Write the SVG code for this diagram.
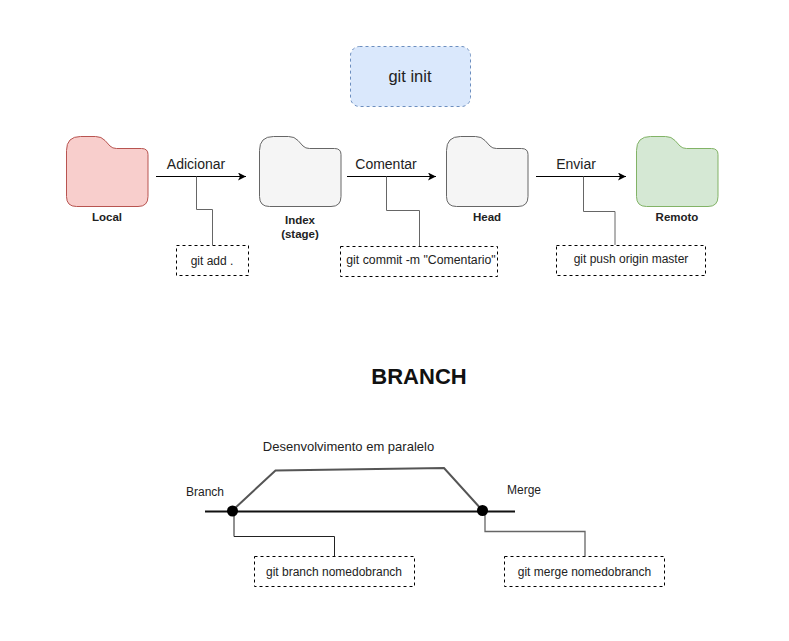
<svg xmlns="http://www.w3.org/2000/svg" width="789" height="641" viewBox="0 0 789 641">
<defs>
<path id="folder" d="M14 0H29Q35 0 38.500 4L43.500 9.500Q46 12 50 12H75Q81.500 12 81.500 18V60Q81.500 70 71.500 70H10Q0 70 0 60V14Q0 0 14 0Z"/>
<marker id="arrow" markerWidth="10" markerHeight="8" refX="8" refY="4" orient="auto" markerUnits="userSpaceOnUse"><path d="M0 0L8 4L0 8L2 4Z" fill="#000"/></marker>
</defs>
<style>
text{font-family:"Liberation Sans",Arial,sans-serif;fill:#222;text-anchor:middle}
.lbl{font-size:14px}
.b{font-size:11.500px;font-weight:bold}
.s{font-size:12px}
.cmd{fill:#fff;stroke:#000;stroke-width:1;stroke-dasharray:3 3}
.arrow{fill:none;stroke:#000;stroke-width:1.200;marker-end:url(#arrow)}
.elbow{fill:none;stroke:#666;stroke-width:1}
.elbowk{fill:none;stroke:#222;stroke-width:1}
</style>
<rect width="789" height="641" fill="#fff"/>
<g id="connectors">
<path class="arrow" d="M156 176.500H246"/>
<path class="arrow" d="M347 176.500H436"/>
<path class="arrow" d="M536 176.500H626"/>
<path class="elbow" d="M196.500 176.500V209.500H212.500V245"/>
<path class="elbow" d="M386.500 176.500V210.500H419.500V246"/>
<path class="elbow" d="M583.500 176.500V211.500H615V245"/>
<path d="M205 511.500H515" fill="none" stroke="#111" stroke-width="2"/>
<path d="M233 510L275.500 470.500L444 468L482 510" fill="none" stroke="#555" stroke-width="2"/>
<path class="elbowk" d="M234 511V536.500H334.500V556"/>
<path class="elbow" d="M485 511V531.500H585V556" style="stroke-width:1.300"/>
</g>
<g id="git-init">
<rect x="350.500" y="46.500" width="120" height="60" rx="9" fill="#dae8fc" stroke="#6c8ebf" stroke-dasharray="3 3"/>
<text x="410" y="81.500" style="font-size:16.500px">git init</text>
</g>
<g id="local"><use href="#folder" x="66.500" y="136.500" fill="#f8cecc" stroke="#b85450"/><text class="b" x="107" y="220.500">Local</text></g>
<g id="index"><use href="#folder" x="259.500" y="136.500" fill="#f5f5f5" stroke="#666"/><text class="b" x="300" y="224">Index</text><text class="b" x="300" y="238">(stage)</text></g>
<g id="head"><use href="#folder" x="446.500" y="136.500" fill="#f5f5f5" stroke="#666"/><text class="b" x="487" y="220.500">Head</text></g>
<g id="remoto"><use href="#folder" x="636.500" y="136.500" fill="#d5e8d4" stroke="#82b366"/><text class="b" x="677" y="220.500">Remoto</text></g>
<g id="label-adicionar"><text class="lbl" x="196" y="169">Adicionar</text></g>
<g id="label-comentar"><text class="lbl" x="386" y="169">Comentar</text></g>
<g id="label-enviar"><text class="lbl" x="576" y="169">Enviar</text></g>
<g id="cmd-add"><rect class="cmd" x="176.500" y="245.500" width="72" height="30"/><text class="s" x="212" y="265">git add .</text></g>
<g id="cmd-commit"><rect class="cmd" x="340.500" y="246.500" width="157" height="30"/><text class="s" x="421" y="264" style="font-size:12.300px">git commit -m "Comentario"</text></g>
<g id="cmd-push"><rect class="cmd" x="556.500" y="245.500" width="149" height="30"/><text class="s" x="631" y="263">git push origin master</text></g>
<g id="title"><text x="419" y="383.500" style="font-size:22px;font-weight:bold;fill:#111">BRANCH</text></g>
<g id="label-dev"><text class="s" x="348.500" y="450.500" style="font-size:13px">Desenvolvimento em paralelo</text></g>
<g id="label-branch"><text class="s" x="205" y="496">Branch</text></g>
<g id="label-merge"><text class="s" x="524" y="494">Merge</text></g>
<g id="dot-branch"><circle cx="232.500" cy="511" r="5.500" fill="#000"/></g>
<g id="dot-merge"><circle cx="482.500" cy="510.500" r="5.500" fill="#000"/></g>
<g id="cmd-branch"><rect class="cmd" x="254.500" y="556.500" width="160" height="30"/><text class="s" x="334" y="576">git branch nomedobranch</text></g>
<g id="cmd-merge"><rect class="cmd" x="504.500" y="556.500" width="160" height="30"/><text class="s" x="584.500" y="576">git merge nomedobranch</text></g>
</svg>
